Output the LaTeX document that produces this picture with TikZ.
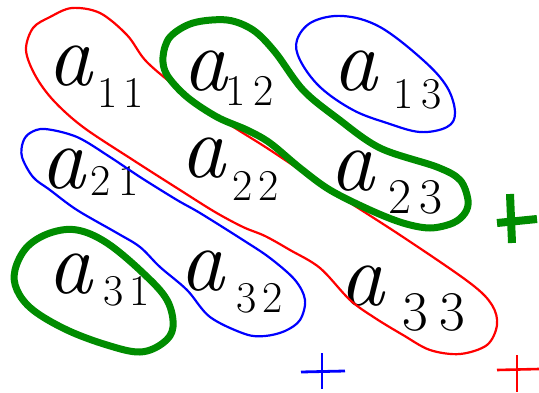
\documentclass[tikz,border=0pt]{standalone}
\begin{document}
\begin{tikzpicture}[x=1pt,y=-1pt,
  letter/.style={font=\fontsize{90}{90}\selectfont\itshape, inner sep=0pt, anchor=base},
  idx/.style={font=\fontsize{44}{44}\selectfont, inner sep=0pt, anchor=base},
  redloop/.style={draw=red, line width=2.2pt, line join=round},
  blueloop/.style={draw=blue, line width=2.2pt, line join=round},
  greenloop/.style={draw={rgb,255:red,0;green,140;blue,0}, line width=7pt, line join=round},
  pen/.style={line cap=round}]
\useasboundingbox (0,0) rectangle (539,392);
\definecolor{pengreen}{RGB}{0,140,0}

% entries
\node[letter] (a11) at (70,85) {a};   \node[idx] (s11) at (121,107) {1\hspace{6pt}1};
\node[letter] (a12) at (205,90) {a};  \node[idx] (s12) at (250,105) {1\hspace{8pt}2};
\node[letter] (a13) at (355,90) {a};  \node[idx] (s13) at (418,108) {1\hspace{8pt}3};
\node[letter] (a21) at (63,188) {a};  \node[idx] (s21) at (115,195) {2\hspace{8pt}1};
\node[letter] (a22) at (203,177) {a}; \node[idx] (s22) at (256,200) {2\hspace{6pt}2};
\node[letter] (a23) at (352,190) {a}; \node[idx,font=\fontsize{50}{50}\selectfont] (s23) at (415,213) {2\hspace{8pt}3};
\node[letter] (a31) at (70,293) {a};  \node[idx] (s31) at (127,305) {3\hspace{6pt}1};
\node[letter] (a32) at (202,290) {a}; \node[idx] (s32) at (260,312) {3\hspace{6pt}2};
\node[letter] (a33) at (362,305) {a}; \node[idx,font=\fontsize{56}{56}\selectfont] (s33) at (434,330) {3\hspace{12pt}3};

% red main diagonal loop
\draw[redloop] plot[smooth cycle, tension=0.55] coordinates {
 (72,8) (100,13) (127,35) (145,60) (170,82) (200,105) (235,128) (270,150)
 (327,188) (403,237) (470,283) (492,305) (497,325) (487,345) (460,354)
 (430,350) (403,335) (375,318) (350,300) (320,268) (290,250) (265,236)
 (243,227) (215,212) (180,190) (133,160) (83,127) (53,100) (35,75)
 (26,50) (33,28) (50,17)};

% blue loop a21-a32
\draw[blueloop] plot[smooth cycle, tension=0.55] coordinates {
 (45,129) (77,137) (110,157) (140,177) (177,200) (200,213) (243,240)
 (270,258) (295,280) (305,300) (300,320) (285,331) (265,336) (245,334)
 (210,317) (187,290) (160,267) (140,247) (117,233) (77,210) (50,190)
 (33,177) (22,157) (23,142) (30,133)};

% blue loop a13
\draw[blueloop] plot[smooth cycle, tension=0.6] coordinates {
 (343,16) (380,27) (423,60) (447,87) (455,113) (447,127) (420,132)
 (387,123) (353,110) (320,87) (300,60) (297,40) (312,22)};

% green loop a12-a23
\draw[greenloop] plot[smooth cycle, tension=0.55] coordinates {
 (163,57) (170,37) (193,23) (227,20) (253,30) (275,52) (303,90) (337,118)
 (380,148) (437,167) (460,180) (468,200) (465,213) (453,223) (430,228)
 (403,223) (370,210) (330,190) (300,168) (270,143) (247,130) (217,117)
 (187,97) (167,75)};

% green loop a31
\draw[greenloop] plot[smooth cycle, tension=0.6] coordinates {
 (15,270) (27,247) (50,233) (77,230) (107,243) (143,273) (167,300)
 (173,327) (163,343) (140,352) (107,345) (67,330) (33,310) (17,290)};

% plus signs
\coordinate (gh1) at (497,223); \coordinate (gh2) at (537,219);
\coordinate (gv1) at (510,194); \coordinate (gv2) at (512,243);
\draw[pengreen, line width=8pt] (gh1) -- (gh2);
\draw[pengreen, line width=8pt] (gv1) -- (gv2);

\coordinate (bh1) at (301,372); \coordinate (bh2) at (345,371);
\coordinate (bv1) at (322,353); \coordinate (bv2) at (322,389);
\draw[blue, line width=2.8pt] (bh1) -- (bh2);
\draw[blue, line width=2.8pt] (bv1) -- (bv2);

\coordinate (rh1) at (497,370); \coordinate (rh2) at (539,369);
\coordinate (rv1) at (517,355); \coordinate (rv2) at (517,392);
\draw[red, line width=2.6pt] (rh1) -- (rh2);
\draw[red, line width=2.6pt] (rv1) -- (rv2);
\end{tikzpicture}
\end{document}
